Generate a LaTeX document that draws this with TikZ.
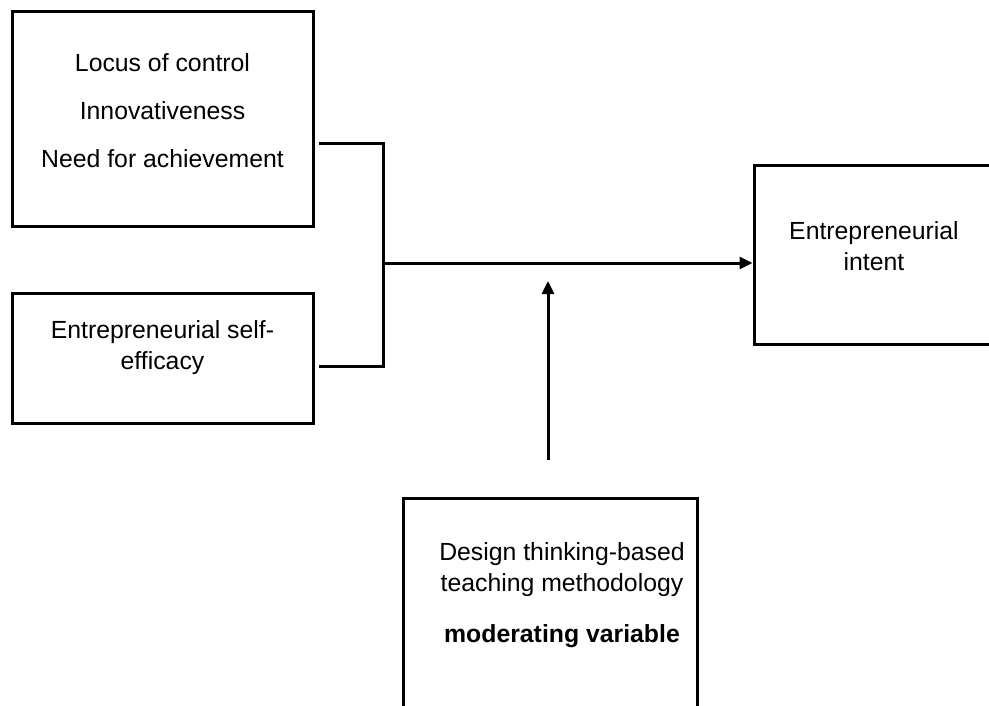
\documentclass[tikz,border=0pt]{standalone}
\usepackage{fontspec}
\setmainfont{Liberation Sans}
\usetikzlibrary{positioning}
\usetikzlibrary{arrows.meta}

\tikzset{
  box/.style={draw, line width=3pt, inner sep=0pt},
  txt/.style={align=center, inner sep=0pt, font=\fontsize{24.8}{31}\selectfont},
  link/.style={line width=3pt},
  arrow/.style={line width=3pt, -{Triangle[length=13pt,width=12pt]}}
}

\begin{document}
\begin{tikzpicture}[x=1pt,y=-1pt]
        \clip (0,0) rectangle (989,706);

        \node[box,minimum width=301pt,minimum height=215pt] (traits) at (162.5,119.5) {};
        \node[box,minimum width=301pt,minimum height=130pt] (efficacy) at (162.5,358) {};
        \node[box,minimum width=240pt,minimum height=178pt] (intent) at (874,255) {};
        \node[box,minimum width=294pt,minimum height=262pt] (method) at (550,629) {};

        \node[txt] (traitsText) at (162.5,111) {Locus of control\\[17pt]Innovativeness\\[17pt]Need for achievement};
        \node[txt] (efficacyText) at (162.5,348) {Entrepreneurial self-\\efficacy};
        \node[txt] (intentText) at (874,246) {Entrepreneurial\\intent};
        \node[txt] (methodText) at (562,595) {Design thinking-based\\teaching methodology\\[20pt]\textbf{moderating variable}};

        \coordinate (jTop) at (383,144);
        \coordinate (jBot) at (383,366);
        \coordinate (jMid) at (383,263);
        \coordinate (modTail) at (548,460);
        \coordinate (modHead) at (548,281);

        \draw[link] ([xshift=4pt]traits.east |- jTop) -- (jTop) -- (jBot) -- ([xshift=4pt]efficacy.east |- jBot);
        \draw[arrow] (jMid) -- (intent.west |- jMid);
        \draw[arrow] (modTail) -- (modHead);
      \end{tikzpicture}
\end{document}
